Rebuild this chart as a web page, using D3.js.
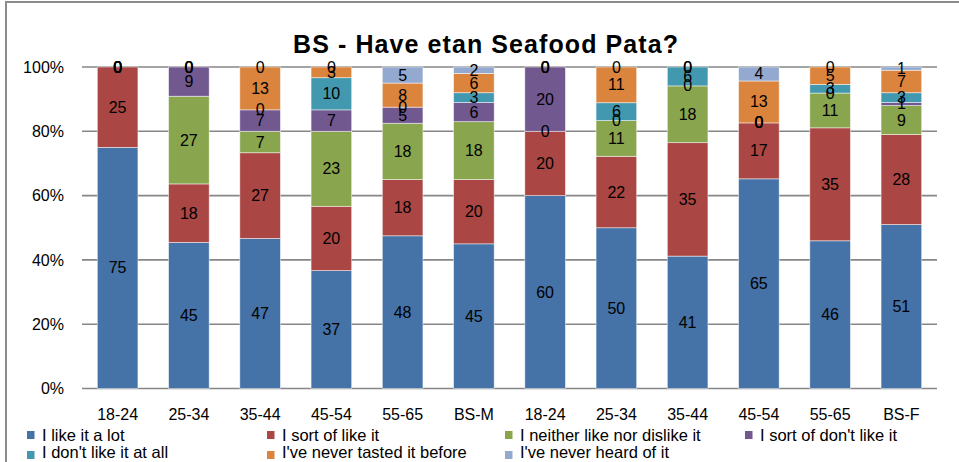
<!DOCTYPE html>
<html>
<head>
<meta charset="utf-8">
<script src="https://cdn.jsdelivr.net/npm/d3@7"></script>
<style>
  body { margin: 0; background: #fff; }
  svg text { font-family: "Liberation Sans", Arial, sans-serif; fill: #000; }
</style>
</head>
<body>
<div id="chart"></div>
<script>
const WIDTH = 959;
const HEIGHT = 462;

// Categories (male groups then female groups)
const categories = ["18-24", "25-34", "35-44", "45-54", "55-65", "BS-M",
                    "18-24", "25-34", "35-44", "45-54", "55-65", "BS-F"];

// Series values, percent of each group
const likeALot    = [75, 45.45, 46.67, 36.67, 47.5, 45, 60, 50, 41.18, 65.22, 45.95, 51];
const sortOfLike  = [25, 18.18, 26.67, 20, 17.5, 20, 20, 22.22, 35.29, 17.39, 35.14, 28];
const neither     = [0, 27.27, 6.67, 23.33, 17.5, 18, 0, 11.11, 17.65, 0, 10.81, 9];
const sortOfDont  = [0, 9.09, 6.67, 6.67, 5, 6, 20, 0, 0, 0, 0, 1];
const dontAtAll   = [0, 0, 0, 10, 0, 3, 0, 5.56, 5.88, 0, 2.70, 3];
const neverTasted = [0, 0, 13.33, 3.33, 7.5, 6, 0, 11.11, 0, 13.04, 5.41, 7];
const neverHeard  = [0, 0, 0, 0, 5, 2, 0, 0, 0, 4.35, 0, 1];

const seriesNames = ["I like it a lot", "I sort of like it", "I neither like nor dislike it",
                     "I sort of don't like it", "I don't like it at all",
                     "I've never tasted it before", "I've never heard of it"];
const seriesValues = [likeALot, sortOfLike, neither, sortOfDont, dontAtAll, neverTasted, neverHeard];
const colors = ["#4572A7", "#AA4643", "#89A54E", "#71588F", "#4198AF", "#DB843D", "#93A9CF"];

const yTicks = [0, 20, 40, 60, 80, 100];

// Build rows for d3.stack, normalised to 100% like Excel
const rows = categories.map((c, i) => {
  const row = { idx: i };
  let total = 0;
  seriesValues.forEach(s => total += s[i]);
  seriesNames.forEach((n, k) => {
    row[n] = seriesValues[k][i] / total * 100;
    row[n + "_raw"] = seriesValues[k][i];
  });
  return row;
});

const stacked = d3.stack().keys(seriesNames)(rows);

const svg = d3.select("#chart")
              .append("svg")
              .attr("width", WIDTH)
              .attr("height", HEIGHT);

// chart frame
svg.append("rect")
   .attr("x", 6).attr("y", 2)
   .attr("width", 1000).attr("height", 600)
   .attr("fill", "none")
   .attr("stroke", "#8c8c8c")
   .attr("stroke-width", 2);

const xScale = d3.scaleBand()
                 .domain(categories.map((c, i) => i))
                 .range([82, 937])
                 .paddingInner(0.43)
                 .paddingOuter(0.215);

const yScale = d3.scaleLinear()
                 .domain([0, 100])
                 .range([388.5, 67]);

// gridlines
svg.append("g")
   .selectAll("line")
   .data(yTicks)
   .enter()
   .append("line")
   .attr("x1", 82).attr("x2", 937)
   .attr("y1", d => yScale(d)).attr("y2", d => yScale(d))
   .attr("stroke", "#868686")
   .attr("stroke-width", 1.6);

// y axis labels
const yAxis = d3.axisLeft(yScale).tickValues(yTicks).tickFormat(d => d + "%").tickSize(0).tickPadding(18);
const yG = svg.append("g")
   .attr("transform", "translate(82, 0)")
   .call(yAxis);
yG.select(".domain").remove();
yG.selectAll("text").style("font-size", "16px").style("font-family", "Liberation Sans, Arial, sans-serif");

// x axis labels
const xAxis = d3.axisBottom(xScale).tickFormat(i => categories[i]).tickSize(0).tickPadding(20);
const xG = svg.append("g")
   .attr("transform", "translate(0, 388.5)")
   .call(xAxis);
xG.select(".domain").remove();
xG.selectAll("text").style("font-size", "16px").style("font-family", "Liberation Sans, Arial, sans-serif");

// stacked bars
const layers = svg.selectAll(".layer")
   .data(stacked)
   .enter()
   .append("g")
   .attr("class", "layer")
   .attr("fill", (d, k) => colors[k]);

layers.selectAll("rect")
   .data(d => d)
   .enter()
   .append("rect")
   .attr("x", d => xScale(d.data.idx))
   .attr("y", d => yScale(d[1]))
   .attr("width", xScale.bandwidth())
   .attr("height", d => yScale(d[0]) - yScale(d[1]))
   .attr("stroke", "rgba(255,255,255,0.6)")
   .attr("stroke-width", 0.8);

// data labels (zeros too, they sit on the boundary)
stacked.forEach(layer => {
  svg.append("g")
     .selectAll("text")
     .data(layer)
     .enter()
     .append("text")
     .attr("x", d => xScale(d.data.idx) + xScale.bandwidth() / 2)
     .attr("y", d => yScale((d[0] + d[1]) / 2))
     .attr("text-anchor", "middle")
     .attr("dominant-baseline", "central")
     .style("font-size", "16px")
     .text(d => d3.format(".0f")(d.data[layer.key + "_raw"]));
});

// title
svg.append("text")
   .attr("x", 485.5)
   .attr("y", 53)
   .attr("text-anchor", "middle")
   .attr("textLength", 385)
   .attr("lengthAdjust", "spacing")
   .style("font-size", "25px")
   .style("font-weight", "bold")
   .text("BS - Have etan Seafood Pata?");

// legend
const legendX = [27, 267, 505, 745];
const legend = svg.append("g")
   .selectAll("g")
   .data(seriesNames)
   .enter()
   .append("g")
   .attr("transform", (d, k) => "translate(" + legendX[k % 4] + "," + (k < 4 ? 434.5 : 452) + ")");

legend.append("rect")
   .attr("y", (d, k) => k < 4 ? -3.5 : -1)
   .attr("width", 7.5).attr("height", 8)
   .attr("fill", (d, k) => colors[k]);

legend.append("text")
   .attr("x", 15)
   .attr("dominant-baseline", "central")
   .style("font-size", "16.5px")
   .text(d => d);
</script>
</body>
</html>
